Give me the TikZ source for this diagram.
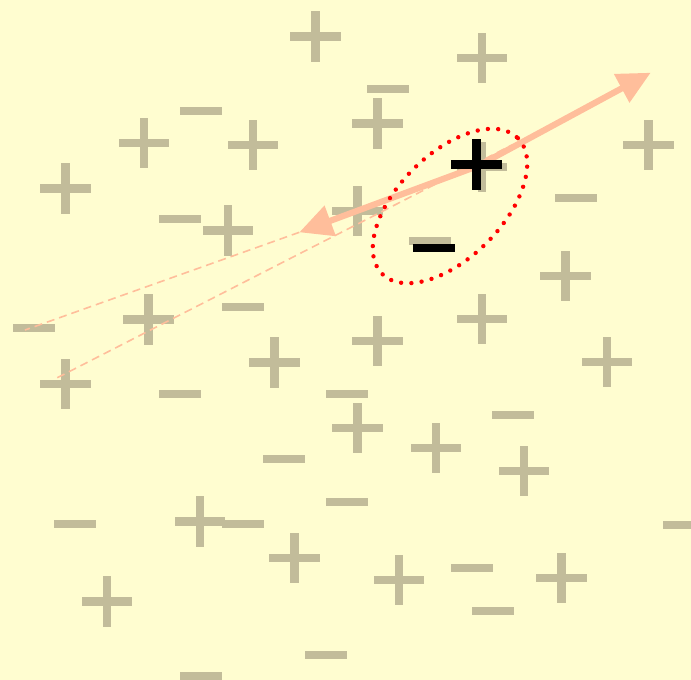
\documentclass[tikz,border=0pt]{standalone}
\usetikzlibrary{arrows.meta}
\definecolor{bgc}{RGB}{255,253,208}
\definecolor{sgn}{RGB}{194,188,154}
\definecolor{peach}{RGB}{255,190,155}
\tikzset{
  gplus/.pic={\fill[sgn] (-25.25,-4.25) rectangle (25.25,4.25);
              \fill[sgn] (-4.25,-25.25) rectangle (4.25,25.25);},
  gminus/.pic={\fill[sgn] (-21,-3.85) rectangle (21,3.85);},
  bplus/.pic={\fill[black] (-25.3,-4.5) rectangle (25.3,4.5);
              \fill[black] (-4.5,-25.3) rectangle (4.5,25.3);},
  bminus/.pic={\fill[black] (-21,-4.15) rectangle (21,4.15);},
  thinline/.style={peach, line width=1.6pt, dash pattern=on 8pt off 5pt},
  thickarrow/.style={peach, line width=6.2pt, -{Triangle[length=33pt,width=31pt]}},
  dotring/.style={red, line width=4.4pt, line cap=round, dash pattern=on 0pt off 10.3pt}
}
\begin{document}
\begin{tikzpicture}[x=1pt,y=-1pt]
\fill[bgc] (0,0) rectangle (691,680);
\useasboundingbox (0,0) rectangle (691,680);
% grey plus signs
\foreach \p in {(315.7,36.5),(482,58),(144,143),(253,145),(377.7,123.5),(65.3,188.7),
  (228,230.3),(357.5,211),(482,167),(648.5,145),(565.5,276),(148.7,319.3),(482,319.2),
  (377.7,341),(274.3,362.3),(607.2,362.2),(65.3,384.2),(357.3,428.2),(436,448.2),
  (523.8,471.2),(200,521.5),(294.7,558.2),(399,579.8),(561.5,578),(107,601.5)}
  \pic at \p {gplus};
% grey minus signs
\foreach \p in {(201,111),(180,219),(34,328),(388,88.8),(430,240.8),(243,306.8),
  (576,198),(180,393.8),(75,523.8),(243,523.8),(201,676),(347,394),(284,458.8),
  (347,501.8),(326,654.8),(513,414.8),(684,524.8),(472,567.8),(493,610.8)}
  \pic at \p {gminus};
% named points
\coordinate (c) at (478,166);
\coordinate (tipA) at (650.7,72.7);
\coordinate (tipB) at (299.3,232.3);
\coordinate (endA) at (25,330);
\coordinate (startB) at (57.3,377.7);
\coordinate (endB) at (512,145);
% dashed lines
\draw[thinline] (tipB) -- (endA);
\draw[thinline] (startB) -- (endB);
% thick arrows
\draw[thickarrow] (c) -- (tipA);
\draw[thickarrow] (c) -- (tipB);
% black signs
\pic at (476.5,164.5) {bplus};
\pic at (434,248) {bminus};
% dotted ellipse
\draw[dotring] (450,206) ellipse [x radius=96, y radius=52, rotate=45];
\end{tikzpicture}
\end{document}
